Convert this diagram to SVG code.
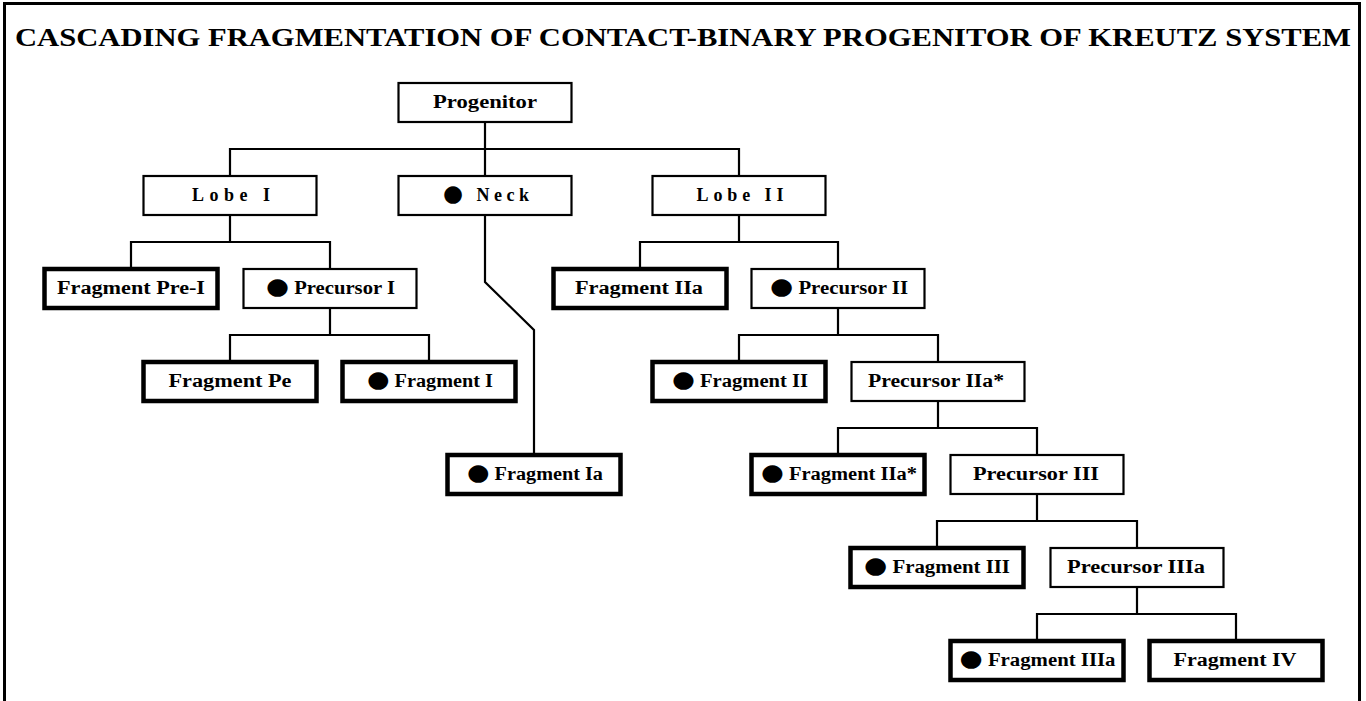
<svg xmlns="http://www.w3.org/2000/svg" width="1366" height="701" viewBox="0 0 1366 701">
<style>
.frame{fill:#fff;stroke:#000;stroke-width:3}
.thin{fill:#fff;stroke:#000;stroke-width:2.2}
.thick{fill:#fff;stroke:#000;stroke-width:4.5}
.lbl{font-family:"Liberation Serif","Times New Roman",serif;font-weight:bold;font-size:18px;text-anchor:middle;fill:#000}
.b{font-family:"DejaVu Sans",sans-serif;font-size:23px;font-weight:normal}
.title{font-family:"Liberation Serif","Times New Roman",serif;font-weight:bold;font-size:25px;text-anchor:middle;fill:#000}
.conn path{fill:none;stroke:#000;stroke-width:2.2}
</style>
<rect class="frame" x="4.5" y="3.5" width="1355" height="720"/>
<text class="title" x="683" y="46" textLength="1336" lengthAdjust="spacingAndGlyphs">CASCADING FRAGMENTATION OF CONTACT-BINARY PROGENITOR OF KREUTZ SYSTEM</text>
<g class="conn">
<path d="M485 122V149M230 176V149H739V176M485 149V176"/>
<path d="M230 215V242M131 269V242H330V269"/>
<path d="M330 308V335M230 362V335H429V362"/>
<path d="M485 215V282L534 330V455"/>
<path d="M739 215V242M640 269V242H838V269"/>
<path d="M838 308V335M739 362V335H938V362"/>
<path d="M938 401V428M838 455V428H1037V455"/>
<path d="M1037 494V521M937 548V521H1137V548"/>
<path d="M1137 587V614M1037 641V614H1236V641"/>
</g>
<g id="progenitor"><rect class="thin" x="398.5" y="83" width="173" height="39"/><text class="lbl" x="485" y="108" textLength="104" lengthAdjust="spacingAndGlyphs">Progenitor</text></g>
<g id="lobe1"><rect class="thin" x="143.5" y="176" width="173" height="39"/><text class="lbl" x="231" y="201" textLength="78" lengthAdjust="spacing">Lobe I</text></g>
<g id="neck"><rect class="thin" x="398.5" y="176" width="173" height="39"/><text class="lbl" x="486" y="201" textLength="86" lengthAdjust="spacing"><tspan class="b">●</tspan> Neck</text></g>
<g id="lobe2"><rect class="thin" x="652.5" y="176" width="173" height="39"/><text class="lbl" x="740" y="201" textLength="87" lengthAdjust="spacing">Lobe II</text></g>
<g id="frag-pre1"><rect class="thick" x="44.5" y="269" width="173" height="39"/><text class="lbl" x="131" y="294" textLength="148" lengthAdjust="spacingAndGlyphs">Fragment Pre-I</text></g>
<g id="precursor1"><rect class="thin" x="243.5" y="269" width="173" height="39"/><text class="lbl" x="330.5" y="294" textLength="129" lengthAdjust="spacingAndGlyphs"><tspan class="b">●</tspan> Precursor I</text></g>
<g id="frag-pe"><rect class="thick" x="143.5" y="362" width="173" height="39"/><text class="lbl" x="230" y="387" textLength="123" lengthAdjust="spacingAndGlyphs">Fragment Pe</text></g>
<g id="frag1"><rect class="thick" x="342.5" y="362" width="173" height="39"/><text class="lbl" x="430" y="387" textLength="126" lengthAdjust="spacingAndGlyphs"><tspan class="b">●</tspan> Fragment I</text></g>
<g id="frag1a"><rect class="thick" x="447.5" y="455" width="173" height="39"/><text class="lbl" x="535" y="480" textLength="136" lengthAdjust="spacingAndGlyphs"><tspan class="b">●</tspan> Fragment Ia</text></g>
<g id="frag2a"><rect class="thick" x="553.5" y="269" width="173" height="39"/><text class="lbl" x="639" y="294" textLength="128" lengthAdjust="spacingAndGlyphs">Fragment IIa</text></g>
<g id="precursor2"><rect class="thin" x="751.5" y="269" width="173" height="39"/><text class="lbl" x="839" y="294" textLength="138" lengthAdjust="spacingAndGlyphs"><tspan class="b">●</tspan> Precursor II</text></g>
<g id="frag2"><rect class="thick" x="652.5" y="362" width="173" height="39"/><text class="lbl" x="740" y="387" textLength="136" lengthAdjust="spacingAndGlyphs"><tspan class="b">●</tspan> Fragment II</text></g>
<g id="precursor2a"><rect class="thin" x="851.5" y="362" width="173" height="39"/><text class="lbl" x="936" y="387" textLength="136" lengthAdjust="spacingAndGlyphs">Precursor IIa*</text></g>
<g id="frag2a-star"><rect class="thick" x="751.5" y="455" width="173" height="39"/><text class="lbl" x="839" y="480" textLength="156" lengthAdjust="spacingAndGlyphs"><tspan class="b">●</tspan> Fragment IIa*</text></g>
<g id="precursor3"><rect class="thin" x="950.5" y="455" width="173" height="39"/><text class="lbl" x="1036" y="480" textLength="126" lengthAdjust="spacingAndGlyphs">Precursor III</text></g>
<g id="frag3"><rect class="thick" x="850.5" y="548" width="173" height="39"/><text class="lbl" x="937" y="573" textLength="146" lengthAdjust="spacingAndGlyphs"><tspan class="b">●</tspan>  Fragment III</text></g>
<g id="precursor3a"><rect class="thin" x="1050.5" y="548" width="173" height="39"/><text class="lbl" x="1136" y="573" textLength="138" lengthAdjust="spacingAndGlyphs">Precursor IIIa</text></g>
<g id="frag3a"><rect class="thick" x="950.5" y="641" width="173" height="39"/><text class="lbl" x="1037.5" y="666" textLength="156" lengthAdjust="spacingAndGlyphs"><tspan class="b">●</tspan> Fragment IIIa</text></g>
<g id="frag4"><rect class="thick" x="1149.5" y="641" width="173" height="39"/><text class="lbl" x="1235" y="666" textLength="123" lengthAdjust="spacingAndGlyphs">Fragment IV</text></g>
</svg>
